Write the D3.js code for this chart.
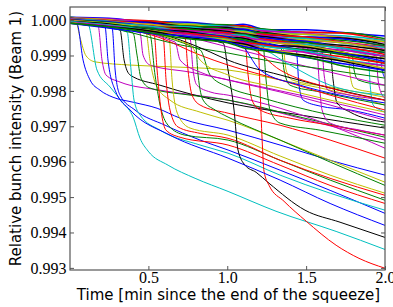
<!DOCTYPE html>
<html>
<head>
<meta charset="utf-8">
<script src="https://cdn.jsdelivr.net/npm/d3@7"></script>
<style>
  body { margin: 0; background: #fff; }
  svg { display: block; }
</style>
</head>
<body>
<svg id="chart" width="393" height="307"></svg>
<script>
// tick values
const xTicks = [0.5, 1.0, 1.5, 2.0]
const yTicks = [0.993, 0.994, 0.995, 0.996, 0.997, 0.998, 0.999, 1.0]

// matplotlib classic colour cycle b g r c m y k
const palette = { b: "#0000ff", g: "#008000", r: "#ff0000", c: "#00bfbf", m: "#bf00bf", y: "#bfbf00", k: "#000000" }

// bunches that stay in the main band (sampled at bandTimes)
const bandTimes = [0.003, 0.25, 0.5, 0.75, 1.0, 1.1, 1.25, 1.5, 1.75, 2.0]
const bandSeries = [
  [1.00008, 1.00005, 0.99995, 0.99994, 0.99985, 0.99988, 0.99973, 0.99973, 0.99964, 0.99955],
  [1.00008, 1.0, 0.99998, 0.99988, 0.99987, 0.99982, 0.99974, 0.99965, 0.99964, 0.99947],
  [1.00005, 1.00002, 0.99998, 0.99986, 0.99982, 0.99984, 0.99968, 0.99966, 0.99962, 0.99942],
  [1.00006, 0.99999, 0.9999, 0.99988, 0.99982, 0.99978, 0.99971, 0.99959, 0.99955, 0.99942],
  [1.00006, 1.00003, 0.99993, 0.99982, 0.9998, 0.99975, 0.99969, 0.99963, 0.9995, 0.99938],
  [1.00005, 1.00001, 0.9999, 0.99988, 0.99977, 0.99978, 0.99962, 0.9996, 0.99949, 0.99939],
  [1.00005, 0.99996, 0.99993, 0.99982, 0.99979, 0.99972, 0.99964, 0.99952, 0.99949, 0.99931],
  [1.00003, 0.99998, 0.99992, 0.99979, 0.99974, 0.99975, 0.99958, 0.99953, 0.99946, 0.99926],
  [1.00003, 0.99995, 0.99986, 0.99983, 0.99975, 0.99969, 0.99962, 0.99949, 0.99942, 0.99928],
  [1.00004, 0.99999, 0.99988, 0.99977, 0.99973, 0.99966, 0.99959, 0.99952, 0.99937, 0.99924],
  [1.00003, 0.99997, 0.99984, 0.99981, 0.99969, 0.99969, 0.99952, 0.99948, 0.99934, 0.99923],
  [1.00003, 0.99992, 0.99988, 0.99976, 0.99972, 0.99964, 0.99955, 0.99942, 0.99936, 0.99917],
  [1.00001, 0.99995, 0.99988, 0.99975, 0.99968, 0.99967, 0.9995, 0.99944, 0.99935, 0.99914],
  [1.00001, 0.99992, 0.99981, 0.99977, 0.99968, 0.99961, 0.99953, 0.99938, 0.99928, 0.99914],
  [1.00001, 0.99995, 0.99983, 0.9997, 0.99965, 0.99956, 0.99949, 0.9994, 0.99921, 0.99908],
  [1.0, 0.99993, 0.9998, 0.99975, 0.99961, 0.9996, 0.99943, 0.99937, 0.99921, 0.99909],
  [1.0, 0.99989, 0.99984, 0.9997, 0.99964, 0.99954, 0.99945, 0.99931, 0.99923, 0.99903],
  [0.99998, 0.99991, 0.99983, 0.99967, 0.99959, 0.99957, 0.9994, 0.99931, 0.9992, 0.99898],
  [0.99998, 0.99988, 0.99976, 0.9997, 0.99959, 0.9995, 0.99942, 0.99925, 0.99914, 0.99898],
  [0.99998, 0.99991, 0.99978, 0.99963, 0.99956, 0.99946, 0.99938, 0.99927, 0.99907, 0.99892],
  [0.99996, 0.99989, 0.99975, 0.99967, 0.99952, 0.99949, 0.99931, 0.99923, 0.99904, 0.99891],
  [0.99996, 0.99984, 0.99978, 0.99962, 0.99954, 0.99942, 0.99932, 0.99915, 0.99904, 0.99883],
  [0.99994, 0.99986, 0.99977, 0.99959, 0.99949, 0.99945, 0.99927, 0.99916, 0.99901, 0.99878],
  [0.99994, 0.99983, 0.9997, 0.99962, 0.99949, 0.99938, 0.99929, 0.9991, 0.99895, 0.99878],
  [0.99995, 0.99986, 0.99971, 0.99955, 0.99946, 0.99934, 0.99925, 0.99912, 0.99888, 0.99872],
  [0.99993, 0.99984, 0.99968, 0.99959, 0.99942, 0.99937, 0.99918, 0.99908, 0.99885, 0.99871],
  [0.99993, 0.99979, 0.99971, 0.99954, 0.99944, 0.9993, 0.99919, 0.999, 0.99885, 0.99863],
  [0.99991, 0.99981, 0.9997, 0.99951, 0.99939, 0.99933, 0.99914, 0.999, 0.99882, 0.99858],
  [0.99991, 0.99978, 0.99963, 0.99954, 0.99939, 0.99926, 0.99916, 0.99894, 0.99876, 0.99858],
  [0.99991, 0.99981, 0.99965, 0.99947, 0.99936, 0.99922, 0.99912, 0.99896, 0.99869, 0.99852],
]

// bunches that lose intensity steeply at some point: [time, intensity] pairs
const dropSeries = [
  [[0.003, 1.0], [0.041, 0.99995], [0.067, 0.9995], [0.105, 0.99899], [0.162, 0.99882], [0.384, 0.99873], [0.701, 0.99867], [1.005, 0.99859], [1.335, 0.99831], [1.652, 0.99802], [2.0, 0.9976]],
  [[0.003, 0.99998], [0.048, 0.99989], [0.086, 0.99887], [0.13, 0.99831], [0.193, 0.99802], [0.276, 0.99782], [0.403, 0.99768], [0.555, 0.99751], [0.701, 0.99723], [1.005, 0.99689], [1.335, 0.99647], [1.652, 0.99604], [2.0, 0.99562]],
  [[0.003, 1.0], [0.117, 0.99989], [0.174, 0.99859], [0.257, 0.99811], [0.339, 0.99766], [0.403, 0.99726], [0.447, 0.99666], [0.498, 0.9963], [0.625, 0.9959], [0.796, 0.99553], [1.005, 0.99516], [1.309, 0.9946], [1.69, 0.99403], [2.0, 0.99352]],
  [[0.003, 0.99998], [0.181, 0.99983], [0.206, 0.99887], [0.231, 0.99845], [0.32, 0.99825], [0.574, 0.99802], [1.005, 0.99774], [1.462, 0.99723], [2.0, 0.99661]],
  [[0.003, 1.0], [0.27, 0.99978], [0.289, 0.99859], [0.32, 0.99788], [0.415, 0.99746], [0.606, 0.99703], [0.828, 0.99661], [1.005, 0.99633], [1.335, 0.99576], [1.652, 0.99519], [2.0, 0.99454]],
  [[0.003, 1.0], [0.32, 0.99972], [0.346, 0.99887], [0.384, 0.99845], [0.574, 0.99816], [1.005, 0.99766], [1.462, 0.99732], [2.0, 0.99695]],
  [[0.003, 1.0], [0.365, 0.99966], [0.39, 0.99859], [0.409, 0.99774], [0.447, 0.99732], [0.574, 0.99689], [0.828, 0.99647], [1.005, 0.99624], [1.335, 0.99562], [1.652, 0.99511], [2.0, 0.99463]],
  [[0.003, 0.99998], [0.403, 0.99964], [0.428, 0.99901], [0.453, 0.99836], [0.51, 0.99808], [0.764, 0.99788], [1.005, 0.99774], [1.462, 0.99726], [2.0, 0.99669]],
  [[0.003, 1.0], [0.447, 0.99964], [0.466, 0.99901], [0.51, 0.99873], [0.764, 0.99853], [1.005, 0.99831], [1.462, 0.99788], [2.0, 0.99732]],
  [[0.003, 1.0], [0.485, 0.99964], [0.51, 0.99887], [0.549, 0.99816], [0.637, 0.99774], [0.828, 0.9974], [1.005, 0.99717], [1.335, 0.99661], [1.652, 0.99604], [2.0, 0.99542]],
  [[0.003, 0.99998], [0.51, 0.99958], [0.542, 0.99845], [0.574, 0.9976], [0.625, 0.99703], [0.732, 0.99675], [1.005, 0.99661], [1.335, 0.99604], [1.652, 0.99548], [2.0, 0.99491]],
  [[0.003, 1.0], [0.536, 0.99961], [0.555, 0.99859], [0.58, 0.99746], [0.612, 0.99689], [0.701, 0.99669], [1.005, 0.99647], [1.335, 0.9959], [1.652, 0.99533], [2.0, 0.99482]],
  [[0.003, 1.0], [0.593, 0.99955], [0.612, 0.99831], [0.637, 0.99746], [0.688, 0.99698], [0.828, 0.9968], [1.005, 0.99666], [1.335, 0.99604], [1.652, 0.99553], [2.0, 0.99505]],
  [[0.003, 0.99998], [0.631, 0.99952], [0.65, 0.99831], [0.688, 0.99732], [0.764, 0.99695], [1.005, 0.99675], [1.335, 0.99616], [1.652, 0.99562], [2.0, 0.99511]],
  [[0.003, 1.0], [0.732, 0.9995], [0.751, 0.99859], [0.777, 0.99788], [0.828, 0.9976], [1.005, 0.99737], [1.335, 0.99703], [1.652, 0.99661], [2.0, 0.9961]],
  [[0.003, 1.0], [0.764, 0.99947], [0.783, 0.99859], [0.808, 0.99816], [0.891, 0.99797], [1.005, 0.99788], [1.335, 0.99751], [1.652, 0.99703], [2.0, 0.99638]],
  [[0.003, 0.99998], [0.796, 0.99947], [0.815, 0.99845], [0.847, 0.99774], [0.923, 0.99746], [1.005, 0.99726], [1.335, 0.99661], [1.652, 0.99599], [2.0, 0.99533]],
  [[0.003, 1.0], [0.974, 0.99935], [1.005, 0.99859], [1.043, 0.99746], [1.068, 0.99633], [1.113, 0.9959], [1.183, 0.9957], [1.265, 0.99539], [1.493, 0.99463], [1.715, 0.99429], [2.0, 0.99386]],
  [[0.003, 1.0], [1.113, 0.9993], [1.132, 0.99845], [1.157, 0.99774], [1.208, 0.99746], [1.398, 0.99723], [1.652, 0.99703], [2.0, 0.99675]],
  [[0.003, 1.0], [1.195, 0.99927], [1.208, 0.99802], [1.221, 0.99661], [1.233, 0.99573], [1.265, 0.99533], [1.36, 0.99488], [1.5, 0.99432], [1.69, 0.99364], [1.835, 0.99327], [2.0, 0.99299]],
  [[0.003, 0.99998], [1.227, 0.99927], [1.246, 0.99831], [1.271, 0.99746], [1.335, 0.99709], [1.589, 0.99689], [2.0, 0.99652]],
  [[0.003, 1.0], [1.341, 0.99921], [1.36, 0.99859], [1.398, 0.99816], [1.589, 0.99797], [2.0, 0.9976]],
  [[0.003, 1.0], [1.354, 0.99921], [1.373, 0.99859], [1.411, 0.99831], [1.652, 0.99811], [2.0, 0.99782]],
  [[0.003, 1.0], [1.437, 0.99916], [1.455, 0.99816], [1.481, 0.99774], [1.589, 0.99757], [1.779, 0.99746], [2.0, 0.99723]],
  [[0.003, 1.0], [1.569, 0.9991], [1.582, 0.99831], [1.601, 0.99746], [1.652, 0.99709], [1.842, 0.99689], [2.0, 0.99675]],
  [[0.003, 1.0], [1.601, 0.9991], [1.614, 0.99845], [1.639, 0.99802], [1.779, 0.99788], [2.0, 0.99774]],
  [[0.003, 0.99998], [1.652, 0.9991], [1.671, 0.99831], [1.696, 0.99766], [1.779, 0.9974], [2.0, 0.99712]],
  [[0.003, 1.0], [1.766, 0.99907], [1.779, 0.99845], [1.804, 0.99808], [1.906, 0.99797], [2.0, 0.99788]],
  [[0.003, 0.99998], [1.791, 0.99904], [1.804, 0.99859], [1.829, 0.99831], [2.0, 0.99816]],
  [[0.003, 1.0], [1.893, 0.99901], [1.906, 0.99816], [1.925, 0.9976], [1.969, 0.99746], [2.0, 0.9974]],
  [[0.003, 1.0], [1.944, 0.99899], [1.956, 0.99831], [1.982, 0.99788], [2.0, 0.9978]],
  [[0.003, 1.0], [1.969, 0.99899], [1.982, 0.99859], [2.0, 0.99836]],
  [[0.003, 1.0], [0.225, 0.99981], [0.244, 0.99887], [0.289, 0.99802], [0.384, 0.99746], [0.637, 0.99675], [1.005, 0.9961], [1.335, 0.99548], [1.652, 0.99482], [2.0, 0.9942]],
  [[0.003, 1.0], [0.51, 0.99972], [0.828, 0.99944], [1.005, 0.99924], [1.335, 0.99887], [1.652, 0.99853], [2.0, 0.99816]],
  [[0.003, 0.99998], [0.32, 0.99972], [0.701, 0.9993], [1.005, 0.99907], [1.335, 0.99879], [1.652, 0.99859], [2.0, 0.99836]],
  [[0.003, 1.0], [0.701, 0.99944], [0.891, 0.9991], [1.005, 0.99887], [1.335, 0.99845], [1.652, 0.99808], [2.0, 0.99774]],
  [[0.003, 1.0], [0.574, 0.9995], [0.828, 0.99901], [1.005, 0.99873], [1.335, 0.99831], [1.652, 0.99788], [2.0, 0.99746]],
  [[0.003, 0.99998], [0.828, 0.99916], [0.891, 0.99845], [1.005, 0.99811], [1.208, 0.99782], [1.652, 0.99732], [2.0, 0.99703]],
  [[0.003, 1.0], [0.669, 0.99938], [0.701, 0.99887], [0.828, 0.99853], [1.005, 0.99831], [1.335, 0.99797], [1.652, 0.9976], [2.0, 0.99717]],
  [[0.003, 1.0], [0.764, 0.9993], [0.828, 0.99887], [1.005, 0.99845], [1.335, 0.99808], [1.652, 0.99774], [2.0, 0.9974]],
  [[0.003, 1.0], [1.081, 0.9993], [1.208, 0.99859], [1.462, 0.99816], [1.715, 0.99788], [2.0, 0.99766]],
  [[0.003, 1.0], [1.208, 0.99921], [1.398, 0.99873], [1.652, 0.99816], [2.0, 0.99788]],
  [[0.003, 1.0], [1.145, 0.99921], [1.335, 0.99859], [1.652, 0.99808], [2.0, 0.99774]],
]
const dropColors = "ybcmbkcgmygrryrmgkrrggybmmkygcmbbmgkrgmybcr"

const mLeft = 70, mRight = 385, mTop = 7, mBottom = 270

const x = d3.scaleLinear().domain([0.003, 2.0]).range([mLeft, mRight])
const y = d3.scaleLinear().domain([0.99294, 1.00037]).range([mBottom, mTop])

const svg = d3.select("#chart")

svg.append("clipPath").attr("id", "clip")
  .append("rect")
  .attr("x", mLeft).attr("y", mTop)
  .attr("width", mRight - mLeft).attr("height", mBottom - mTop)

const line = d3.line()
  .x((d) => x(d[0]))
  .y((d) => y(d[1]))
  .curve(d3.curveMonotoneX)
const plot = svg.append("g").attr("clip-path", "url(#clip)")

plot.selectAll("path.drop")
  .data(dropSeries)
  .enter()
  .append("path")
  .attr("class", "drop")
  .attr("d", line)
  .attr("fill", "none")
  .attr("stroke", (d, i) => palette[dropColors[i]])
  .attr("stroke-width", 1)

const bandPts = bandSeries.map((s) => s.map((v, i) => [bandTimes[i], v]))
const cycle = "bgrcmyk"
plot.selectAll("path.band")
  .data(bandPts)
  .enter()
  .append("path")
  .attr("class", "band")
  .attr("d", line)
  .attr("fill", "none")
  .attr("stroke", (d, i) => palette[cycle[i % 7]])
  .attr("stroke-width", 1.5)

// axes: ticks inside on all four sides
const axisColor = "#555"
const styleAxis = (g) => {
  g.select(".domain").remove()
  g.selectAll(".tick line").attr("stroke", axisColor)
  g.selectAll("text")
    .attr("fill", "#000")
    .style("font-family", "'Liberation Serif', serif")
    .style("font-size", "16px")
}

svg.append("g")
  .attr("transform", `translate(0,${mBottom})`)
  .call(d3.axisBottom(x).tickValues(xTicks).tickSize(-4).tickPadding(1.5).tickFormat(d3.format(".1f")))
  .call(styleAxis)

svg.append("g")
  .attr("transform", `translate(0,${mTop})`)
  .call(d3.axisTop(x).tickValues(xTicks).tickSize(-4).tickFormat(""))
  .call(styleAxis)

svg.append("g")
  .attr("transform", `translate(${mLeft},0)`)
  .call(d3.axisLeft(y).tickValues(yTicks).tickSize(-4).tickPadding(3.5).tickFormat(d3.format(".3f")))
  .call(styleAxis)

svg.append("g")
  .attr("transform", `translate(${mRight},0)`)
  .call(d3.axisRight(y).tickValues(yTicks).tickSize(-4).tickFormat(""))
  .call(styleAxis)

svg.append("rect")
  .attr("x", mLeft).attr("y", mTop)
  .attr("width", mRight - mLeft).attr("height", mBottom - mTop)
  .attr("fill", "none")
  .attr("stroke", axisColor)
  .attr("stroke-width", 1.2)

svg.append("text")
  .attr("x", (mLeft + mRight) / 2 + 1)
  .attr("y", 300)
  .attr("text-anchor", "middle")
  .style("font-family", "'DejaVu Sans', sans-serif")
  .style("font-size", "15px")
  .text("Time [min since the end of the squeeze]")

svg.append("text")
  .attr("transform", `translate(21,${(mTop + mBottom) / 2}) rotate(-90)`)
  .attr("text-anchor", "middle")
  .style("font-family", "'DejaVu Sans', sans-serif")
  .style("font-size", "15px")
  .text("Relative bunch intensity (Beam 1)")
</script>
</body>
</html>
